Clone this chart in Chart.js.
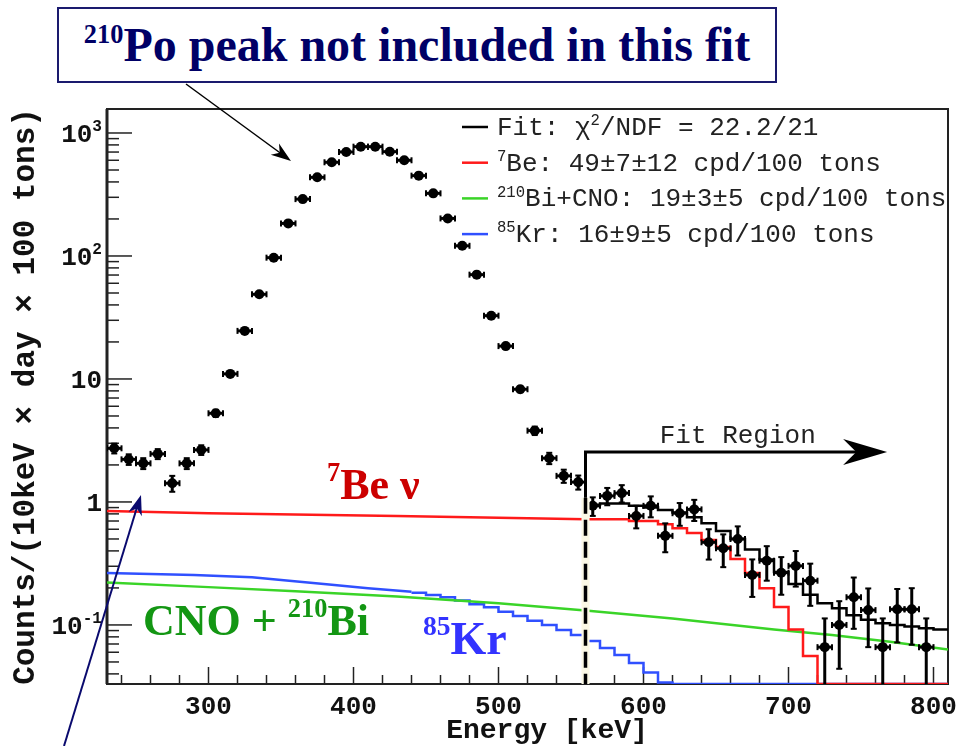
<!DOCTYPE html>
<html>
<head>
<meta charset="utf-8">
<script src="https://cdn.jsdelivr.net/npm/chart.js@4.4.0/dist/chart.umd.min.js"></script>
<style>
  body { margin: 0; background: #fff; }
  #wrap { position: relative; width: 957px; height: 746px; overflow: hidden; }
  #spectrum { position: absolute; left: 0; top: 0; }
  .note { position: absolute; font-family: "Liberation Serif", serif; font-weight: bold; line-height: 1; white-space: nowrap; }
  .note sup { font-size: 0.6em; vertical-align: 0.7em; line-height: 0; }
  #title { left: 57px; top: 7px; width: 716px; height: 72px; border: 2px solid #1a1a6e; background: #fff;
           display: flex; align-items: center; justify-content: center; font-size: 48px; color: #000066; }
  #title sup { font-size: 0.55em; }
  #lblBe { left: 327px; top: 463px; font-size: 44px; color: #cc0000; }
  #lblCno { left: 143px; top: 599px; font-size: 44px; color: #139613; }
  #lblKr { left: 423px; top: 616px; font-size: 46px; color: #3333ff; }
</style>
</head>
<body>
<div id="wrap">
  <canvas id="spectrum" width="957" height="746"></canvas>
  <div class="note" id="title"><span><sup>210</sup>Po peak not included in this fit</span></div>
  <div class="note" id="lblBe"><sup>7</sup>Be ν</div>
  <div class="note" id="lblCno">CNO + <sup>210</sup>Bi</div>
  <div class="note" id="lblKr"><sup>85</sup>Kr</div>
</div>
<script>
// measured spectrum, 10 keV bins (bin centres)
var energy = [235,245,255,265,275,285,295,305,315,325,335,345,355,365,375,385,395,405,415,425,
              435,445,455,465,475,485,495,505,515,525,535,545,555,565,575,585,595,605,615,625,
              635,645,655,665,675,685,695,705,715,725,735,745,755,765,775,785,795];
var counts = [2.73,2.22,2.06,2.46,1.42,2.06,2.65,5.26,11.0,24.6,48.8,96.9,184,290,436,578,701,774,774,705,
              600,450,323,202,121,70.5,32.7,18.5,8.25,3.80,2.27,1.63,1.45,0.93,1.12,1.18,0.77,0.93,0.53,0.81,
              0.87,0.47,0.42,0.50,0.255,0.333,0.266,0.302,0.229,0.066,0.100,0.168,0.132,0.066,0.134,0.134,0.066];
var countErr = [0.25,0.22,0.21,0.23,0.21,0.21,0.24,0.35,0.5,0.75,1.1,1.5,2.1,2.6,3.2,3.7,4.1,4.3,4.3,4.1,
                3.8,3.3,2.8,2.2,1.7,1.3,0.9,0.66,0.45,0.3,0.24,0.2,0.19,0.16,0.18,0.19,0.16,0.18,0.14,0.17,
                0.17,0.13,0.125,0.133,0.086,0.104,0.09,0.097,0.086,0.047,0.056,0.075,0.066,0.047,0.062,0.065,0.047];
var binHalf = 5;

// fit histograms inside the fit region (lower bin edges)
var fitEdges = [560,570,580,590,600,610,620,630,640,650,660,670,680,690,700,710,720,730,740,750,760,770,780,790,800];
var fitTotal = [0.95,0.97,0.97,0.93,0.90,0.86,0.82,0.75,0.67,0.58,0.50,0.41,0.34,0.27,0.215,0.176,0.15,0.137,0.12,0.11,0.103,0.10,0.097,0.094,0.092];
var fitBe    = [0.725,0.725,0.725,0.70,0.70,0.66,0.61,0.56,0.49,0.43,0.343,0.265,0.199,0.14,0.092,0.056,0,0,0,0,0,0,0,0,0];
var histEnd = 810;

// 7Be below the fit region
var beLowE = [230,300,430,500,560];
var beLow  = [0.845,0.81,0.77,0.745,0.725];

// 210Bi + CNO
var cnoE = [230,300,360,430,500,560,620,690,730,770,810];
var cno  = [0.221,0.203,0.188,0.170,0.150,0.131,0.113,0.092,0.083,0.073,0.063];

// 85Kr, smooth part then 10 keV steps
var krLowE = [230,290,330,385,410,440];
var krLow  = [0.265,0.255,0.244,0.212,0.199,0.186];
var krEdges = [440,450,460,470,480,490,500,510,520,530,540,550,560,570,580,590,600,610,620];
var krSteps = [0.183,0.175,0.168,0.158,0.147,0.139,0.128,0.118,0.108,0.100,0.091,0.083,0.074,0.065,0.057,0.049,0.041,0.034,0];

var xMin = 230, xMax = 810;
var yMin = 0.0331, yMax = 1567;
var xTickValues = [300,400,500,600,700,800];
var yTickValues = [0.1,1,10,100,1000];
var yTickBase = ['10','1','10','10','10'];
var yTickExp  = ['-1','','','2','3'];

var fitStart = 560, fitArrowEnd = 768, fitArrowY = 2.55, fitDashTop = 1.08;

var red = '#ff1a1a', green = '#3ad428', blue = '#3050ff';
var mono = '"Liberation Mono", monospace';

function pts(xs, ys) {
    return xs.map(function(x, i) { return {x: x, y: Math.max(ys[i], yMin)}; });
}
// histogram as steps: one point per lower edge, closed at the upper edge
function steps(edges, vals, end) {
    var p = pts(edges, vals);
    p.push({x: end, y: Math.max(vals[vals.length - 1], yMin)});
    return p;
}

function line(ctx, x1, y1, x2, y2) {
    ctx.beginPath(); ctx.moveTo(x1, y1); ctx.lineTo(x2, y2); ctx.stroke();
}

function arrowHead(ctx, x1, y1, x2, y2, len, half) {
    var ang = Math.atan2(y2 - y1, x2 - x1);
    var bx = x2 - len * Math.cos(ang), by = y2 - len * Math.sin(ang);
    var nx = -Math.sin(ang) * half, ny = Math.cos(ang) * half;
    var mx = x2 - 0.7 * len * Math.cos(ang), my = y2 - 0.7 * len * Math.sin(ang);
    ctx.beginPath();
    ctx.moveTo(x2, y2);
    ctx.lineTo(bx + nx, by + ny);
    ctx.lineTo(mx, my);
    ctx.lineTo(bx - nx, by - ny);
    ctx.closePath();
    ctx.fill();
}

// text with superscript pieces, starting at x (alphabetic baseline y)
function drawRich(ctx, parts, x, y, size, weight, supScale, supRise) {
    parts.forEach(function(p) {
        var s = p.sup ? size * supScale : size;
        ctx.font = weight + ' ' + s + 'px ' + mono;
        ctx.fillText(p.t, x, p.sup ? y - size * supRise : y);
        x += ctx.measureText(p.t).width;
    });
    return x;
}
function richWidth(ctx, parts, size, weight, supScale) {
    var w = 0;
    parts.forEach(function(p) {
        ctx.font = weight + ' ' + (p.sup ? size * supScale : size) + 'px ' + mono;
        w += ctx.measureText(p.t).width;
    });
    return w;
}

var legendRows = [
    {color: '#000', parts: [{t: 'Fit: χ'}, {t: '2', sup: true}, {t: '/NDF = 22.2/21'}]},
    {color: red, parts: [{t: '7', sup: true}, {t: 'Be: 49±7±12 cpd/100 tons'}]},
    {color: green, parts: [{t: '210', sup: true}, {t: 'Bi+CNO: 19±3±5 cpd/100 tons'}]},
    {color: blue, parts: [{t: '85', sup: true}, {t: 'Kr: 16±9±5 cpd/100 tons'}]}
];

var decor = {
    id: 'decor',
    beforeDatasetsDraw: function(chart) {
        var ctx = chart.ctx, a = chart.chartArea, x = chart.scales.x, y = chart.scales.y;
        ctx.save();
        ctx.strokeStyle = '#222';
        ctx.lineWidth = 1.5;
        for (var v = 240; v <= 800; v += 20) {
            var px = x.getPixelForValue(v);
            line(ctx, px, a.bottom, px, a.bottom - (v % 100 === 0 ? 17 : 9));
        }
        for (var d = -2; d <= 3; d++) {
            for (var m = 1; m <= 9; m++) {
                var val = m * Math.pow(10, d);
                if (val < yMin || val > yMax) continue;
                var py = y.getPixelForValue(val);
                line(ctx, a.left, py, a.left + (m === 1 ? 25 : 12), py);
            }
        }
        ctx.lineWidth = 2;
        ctx.strokeRect(a.left, a.top, a.right - a.left, a.bottom - a.top);
        ctx.lineWidth = 3;
        line(ctx, a.left, a.top, a.left, a.bottom);
        // y tick labels: base with a small exponent
        ctx.fillStyle = '#111';
        yTickValues.forEach(function(v, i) {
            var parts = [{t: yTickBase[i]}];
            if (yTickExp[i]) parts.push({t: yTickExp[i], sup: true});
            var w = richWidth(ctx, parts, 26, 'bold', 0.62);
            drawRich(ctx, parts, a.left - 5 - w, y.getPixelForValue(v) + 9, 26, 'bold', 0.62, 0.42);
        });
        ctx.restore();
    },
    afterDatasetsDraw: function(chart) {
        var ctx = chart.ctx, a = chart.chartArea, x = chart.scales.x, y = chart.scales.y;
        ctx.save();
        ctx.beginPath();
        ctx.rect(a.left, a.top, a.right - a.left, a.bottom - a.top);
        ctx.clip();
        // error bars
        ctx.strokeStyle = '#000';
        ctx.lineWidth = 3;
        energy.forEach(function(e, i) {
            var px = x.getPixelForValue(e), py = y.getPixelForValue(counts[i]);
            var hi = y.getPixelForValue(counts[i] + countErr[i]);
            var lo = counts[i] - countErr[i] > yMin ? y.getPixelForValue(counts[i] - countErr[i]) : a.bottom + 2;
            var l = x.getPixelForValue(e - binHalf), r = x.getPixelForValue(e + binHalf);
            line(ctx, px, hi, px, lo);
            line(ctx, l, py, r, py);
            ctx.lineWidth = 2;
            line(ctx, px - 3, hi, px + 3, hi);
            line(ctx, px - 3, lo, px + 3, lo);
            line(ctx, l, py - 3, l, py + 3);
            line(ctx, r, py - 3, r, py + 3);
            ctx.lineWidth = 3;
        });
        // fit region marker
        var fx = x.getPixelForValue(fitStart);
        var fy = y.getPixelForValue(fitArrowY);
        var dy = y.getPixelForValue(fitDashTop);
        ctx.strokeStyle = '#fbf8e4';
        ctx.lineWidth = 8;
        line(ctx, fx, dy, fx, a.bottom);
        ctx.strokeStyle = '#000';
        ctx.lineWidth = 3.5;
        ctx.setLineDash([16, 6]);
        line(ctx, fx, dy, fx, a.bottom);
        ctx.setLineDash([]);
        ctx.lineWidth = 3;
        var tx = x.getPixelForValue(fitArrowEnd);
        ctx.beginPath();
        ctx.moveTo(fx, dy);
        ctx.lineTo(fx, fy);
        ctx.lineTo(tx - 20, fy);
        ctx.stroke();
        ctx.fillStyle = '#000';
        arrowHead(ctx, fx, fy, tx, fy, 44, 13);
        ctx.font = '26px ' + mono;
        ctx.textAlign = 'center';
        ctx.fillStyle = '#222';
        ctx.fillText('Fit Region', x.getPixelForValue(665), fy - 9);
        ctx.restore();
    },
    afterDraw: function(chart) {
        var ctx = chart.ctx;
        ctx.save();
        // legend
        legendRows.forEach(function(row, i) {
            var cy = 127 + i * 35.7;
            ctx.strokeStyle = row.color;
            ctx.lineWidth = 2.5;
            line(ctx, 462, cy, 488, cy);
            ctx.fillStyle = '#222';
            drawRich(ctx, row.parts, 497, cy + 8, 26, 'normal', 0.6, 0.38);
        });
        // x axis title
        ctx.fillStyle = '#111';
        ctx.font = 'bold 28px ' + mono;
        ctx.textAlign = 'center';
        ctx.textBaseline = 'middle';
        ctx.fillText('Energy [keV]', 547, 731);
        // pointer arrows from the notes
        ctx.strokeStyle = '#000';
        ctx.fillStyle = '#000';
        ctx.lineWidth = 1.5;
        line(ctx, 186, 84, 283, 155);
        arrowHead(ctx, 186, 84, 291, 161, 20, 7);
        ctx.strokeStyle = '#0a0a6e';
        ctx.fillStyle = '#0a0a6e';
        ctx.lineWidth = 2;
        line(ctx, 64, 746, 138, 504);
        arrowHead(ctx, 64, 746, 141, 495, 20, 7);
        ctx.restore();
    }
};

var lineStyle = {pointRadius: 0, borderWidth: 2.5, fill: false, tension: 0};

new Chart(document.getElementById('spectrum').getContext('2d'), {
    type: 'line',
    data: {
        datasets: [
            {label: 'data', data: pts(energy, counts), showLine: false, pointRadius: 5,
             pointBackgroundColor: '#000', pointBorderWidth: 0, pointHoverRadius: 5},
            Object.assign({label: 'fit', data: steps(fitEdges, fitTotal, histEnd), borderColor: '#000', stepped: 'before'}, lineStyle),
            Object.assign({label: 'be7 fit', data: steps(fitEdges, fitBe, histEnd), borderColor: red, stepped: 'before'}, lineStyle),
            Object.assign({label: 'be7', data: pts(beLowE, beLow), borderColor: red}, lineStyle),
            Object.assign({label: 'cno', data: pts(cnoE, cno), borderColor: green}, lineStyle),
            Object.assign({label: 'kr', data: pts(krLowE, krLow), borderColor: blue}, lineStyle),
            Object.assign({label: 'kr steps', data: steps(krEdges, krSteps, histEnd), borderColor: blue, stepped: 'before'}, lineStyle)
        ]
    },
    options: {
        responsive: false,
        animation: false,
        events: [],
        layout: {padding: {left: 0, top: 109, right: 9, bottom: 0}},
        plugins: {legend: {display: false}, tooltip: {enabled: false}},
        scales: {
            x: {
                type: 'linear', min: xMin, max: xMax,
                grid: {display: false}, border: {display: false},
                afterBuildTicks: function(s) { s.ticks = xTickValues.map(function(v) { return {value: v}; }); },
                afterFit: function(s) { s.height = 62; s.paddingLeft = 0; s.paddingRight = 0; },
                ticks: {font: {family: mono, size: 26, weight: 'bold'}, color: '#111', padding: 0, maxRotation: 0, autoSkip: false}
            },
            y: {
                type: 'logarithmic', min: yMin, max: yMax,
                grid: {display: false}, border: {display: false},
                afterBuildTicks: function(s) { s.ticks = yTickValues.map(function(v) { return {value: v}; }); },
                afterFit: function(s) { s.width = 107; s.paddingTop = 0; s.paddingBottom = 0; },
                ticks: {display: false},
                title: {display: true, text: 'Counts/(10keV × day × 100 tons)',
                        font: {family: mono, size: 31, weight: 'bold'}, color: '#111', padding: {top: 8, bottom: 0}}
            }
        }
    },
    plugins: [decor]
});
</script>
</body>
</html>
